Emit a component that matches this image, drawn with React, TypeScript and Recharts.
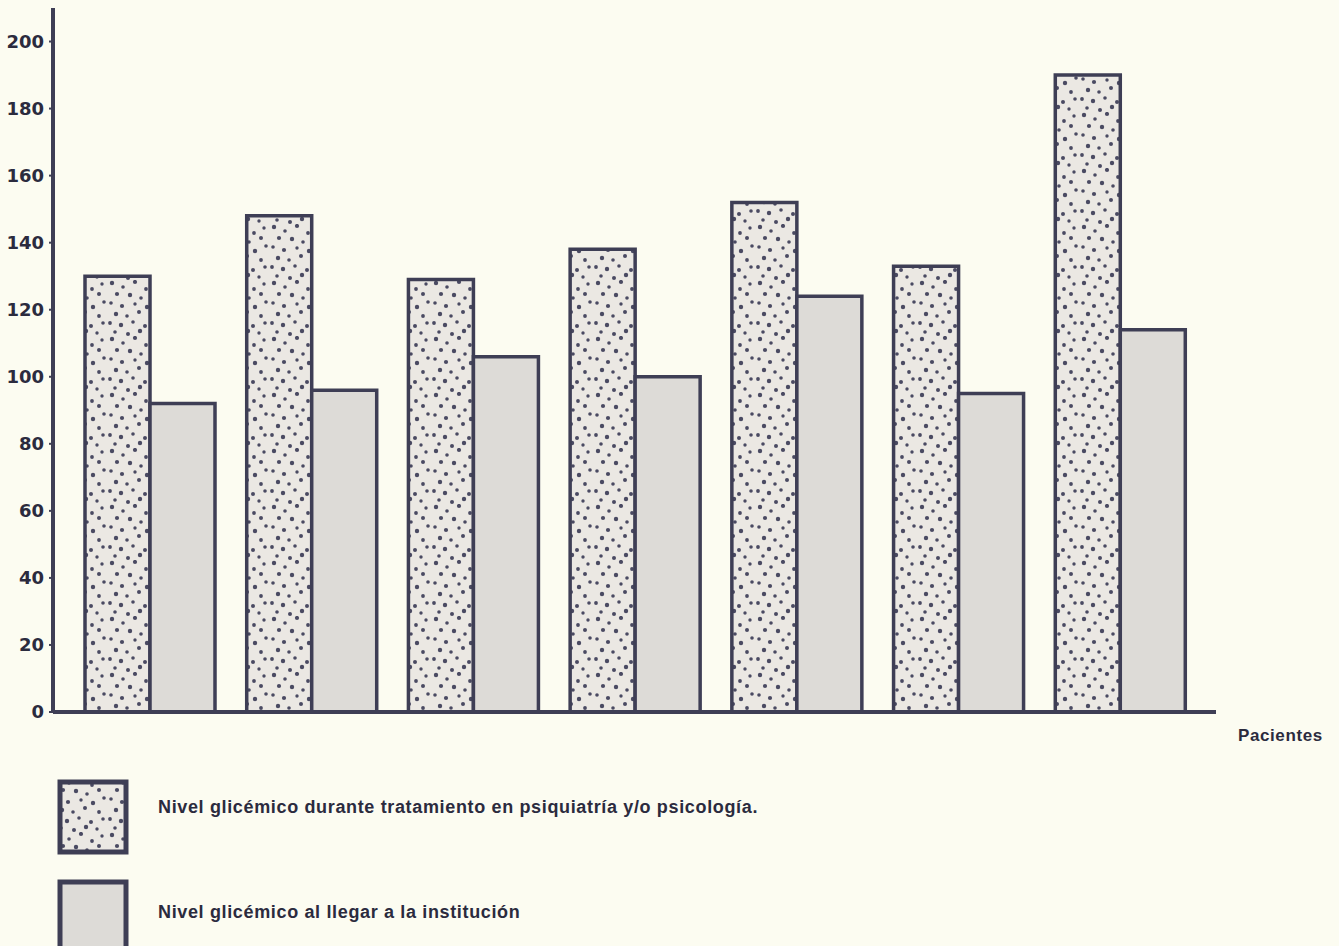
import React from "react";
import { BarChart, Bar, XAxis, YAxis } from "recharts";

const patients = ["1", "2", "3", "4", "5", "6", "7"];
const duringTreatment = [130, 148, 129, 138, 152, 133, 190];
const onArrival = [92, 96, 106, 100, 124, 95, 114];
const yTicks = [0, 20, 40, 60, 80, 100, 120, 140, 160, 180, 200];

const legendLabels = [
  "Nivel glicémico durante tratamiento en psiquiatría y/o psicología.",
  "Nivel glicémico al llegar a la institución",
];

const data = patients.map((p, i) => ({
  patient: p,
  during: duringTreatment[i],
  arrival: onArrival[i],
}));

const INK = "#3e3e55";
const TEXT = "#2b2b3e";
const BG = "#fcfcf1";
const DOT_FILL = "#ebe8e3";
const PLAIN_FILL = "#dddbd7";

// scattered dots for the stippled series (one tile, repeated)
const dots: [number, number, number][] = [
  [4, 3, 2.2], [15, 7, 1.8], [27, 2, 2.1], [38, 9, 1.9], [48, 4, 1.7],
  [9, 14, 2.1], [22, 15, 2.2], [33, 18, 1.8], [45, 14, 2.0],
  [3, 23, 1.8], [14, 26, 2.1], [27, 24, 1.7], [39, 27, 2.2], [50, 22, 1.8],
  [8, 34, 2.2], [19, 36, 1.8], [31, 32, 2.0], [45, 36, 1.9],
  [2, 43, 1.9], [13, 45, 2.2], [25, 42, 1.8], [37, 46, 2.0], [49, 43, 1.8],
  [7, 52, 1.8], [20, 54, 2.0], [32, 51, 2.2], [43, 53, 1.7],
];

function DotPattern({ id }: { id: string }) {
  return (
    <pattern id={id} patternUnits="userSpaceOnUse" width={54} height={56}>
      <rect width={54} height={56} fill={DOT_FILL} />
      {dots.map(([x, y, r], i) => (
        <circle key={i} cx={x} cy={y} r={r} fill="#4a4a62" />
      ))}
    </pattern>
  );
}

export default function App() {
  return (
    <div
      style={{
        position: "absolute",
        left: 0,
        top: 0,
        width: 1339,
        height: 946,
        background: BG,
        overflow: "hidden",
        fontFamily: "'Liberation Sans', Arial, sans-serif",
      }}
    >
      <BarChart
        width={1339}
        height={946}
        data={data}
        margin={{ top: 8, right: 123, left: 0, bottom: 0 }}
        barCategoryGap={16}
        barGap={0}
      >
        <defs>
          <DotPattern id="stipple" />
        </defs>
        <XAxis
          dataKey="patient"
          height={234}
          tick={false}
          tickLine={false}
          padding={{ left: 16, right: 15 }}
          axisLine={{ stroke: INK, strokeWidth: 4 }}
        />
        <YAxis
          width={53}
          domain={[0, 210]}
          ticks={yTicks}
          interval={0}
          tickSize={4}
          tickMargin={5}
          axisLine={{ stroke: INK, strokeWidth: 4 }}
          tickLine={{ stroke: INK, strokeWidth: 2 }}
          tick={{
            fill: TEXT,
            fontSize: 18,
            fontWeight: 700,
            fontFamily: "'DejaVu Sans', sans-serif",
          }}
        />
        <Bar
          dataKey="during"
          fill="url(#stipple)"
          stroke={INK}
          strokeWidth={3.5}
          isAnimationActive={false}
        />
        <Bar
          dataKey="arrival"
          fill={PLAIN_FILL}
          stroke={INK}
          strokeWidth={3.5}
          isAnimationActive={false}
        />
      </BarChart>

      <div
        style={{
          position: "absolute",
          left: 1238,
          top: 726,
          fontSize: 17,
          fontWeight: 700,
          color: TEXT,
          letterSpacing: 0.6,
        }}
      >
        Pacientes
      </div>

      {/* legend */}
      <svg
        width={80}
        height={180}
        style={{ position: "absolute", left: 54, top: 776 }}
      >
        <defs>
          <DotPattern id="stippleLegend" />
        </defs>
        <rect x={6} y={6} width={66} height={70} fill="url(#stippleLegend)" stroke={INK} strokeWidth={5} />
        <rect x={6} y={106} width={66} height={70} fill={PLAIN_FILL} stroke={INK} strokeWidth={5} />
      </svg>
      {legendLabels.map((label, i) => (
        <div
          key={label}
          style={{
            position: "absolute",
            left: 158,
            top: i === 0 ? 797 : 902,
            fontSize: 18,
            fontWeight: 700,
            color: TEXT,
            letterSpacing: 0.65,
            whiteSpace: "nowrap",
          }}
        >
          {label}
        </div>
      ))}
    </div>
  );
}
